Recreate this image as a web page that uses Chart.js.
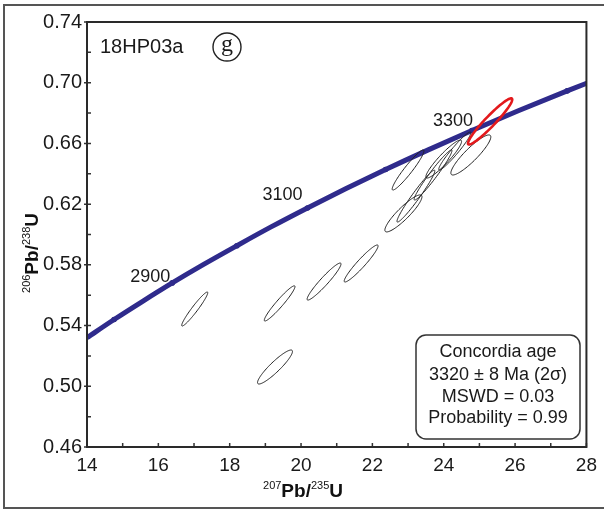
<!DOCTYPE html>
<html>
<head>
<meta charset="utf-8">
<script src="https://cdn.jsdelivr.net/npm/chart.js@4.4.1/dist/chart.umd.min.js"></script>
<style>
  html, body { margin: 0; padding: 0; background: #fff; }
  #wrap { position: relative; width: 604px; height: 511px; }
</style>
</head>
<body>
<div id="wrap"><canvas id="concordia"></canvas></div>
<script>
// concordia curve (age in Ma -> 207Pb/235U, 206Pb/238U)
const concAges = [2750, 2800, 2850, 2900, 2950, 3000, 3050, 3100, 3150, 3200, 3250, 3300, 3350, 3400, 3450];
const concX = [14.00, 14.76, 15.56, 16.39, 17.27, 18.20, 19.16, 20.18, 21.25, 22.37, 23.55, 24.79, 26.09, 27.46, 28.90];
const concY = [0.5320, 0.5440, 0.5560, 0.5681, 0.5803, 0.5926, 0.6050, 0.6175, 0.6301, 0.6428, 0.6556, 0.6685, 0.6815, 0.6946, 0.7078];
const labelledAges = [2900, 3100, 3300];

// zircon analyses: centre, 2-sigma half widths, error correlation
const ellX   = [17.02, 19.40, 19.27, 20.645, 21.685, 23.00, 22.87, 23.22, 23.70, 24.00, 24.31, 24.76];
const ellY   = [0.5509, 0.5546, 0.5127, 0.5690, 0.5809, 0.6425, 0.6139, 0.6253, 0.6392, 0.6497, 0.6550, 0.6524];
const ellSx  = [0.365, 0.43, 0.49, 0.475, 0.475, 0.445, 0.52, 0.53, 0.53, 0.50, 0.45, 0.56];
const ellSy  = [0.0112, 0.0116, 0.0112, 0.0122, 0.0122, 0.0132, 0.0122, 0.0171, 0.0165, 0.0125, 0.0125, 0.0132];
const ellRho = [0.96, 0.955, 0.915, 0.95, 0.95, 0.95, 0.90, 0.97, 0.97, 0.93, 0.96, 0.90];

// concordia age ellipse
const ageX = 25.30, ageY = 0.6745, ageSx = 0.62, ageSy = 0.0152, ageRho = 0.95;

const legendLines = ['Concordia age', '3320 \u00b1 8 Ma (2\u03c3)', 'MSWD = 0.03', 'Probability = 0.99'];

const FONT = "'Liberation Sans', Arial, Helvetica, sans-serif";
const NAVY = '#2f2b8c';

const concPts = concX.map((x, i) => ({ x: x, y: concY[i] }));
const markerPts = concPts.filter((p, i) => concAges[i] % 100 === 0);

function ellipsePath(ctx, xs, ys, cx, cy, sx, sy, rho) {
  const n = 90, s = Math.sqrt(1 - rho * rho);
  ctx.beginPath();
  for (let k = 0; k <= n; k++) {
    const t = k / n * Math.PI * 2;
    const px = xs.getPixelForValue(cx + sx * Math.cos(t));
    const py = ys.getPixelForValue(cy + sy * (rho * Math.cos(t) + s * Math.sin(t)));
    if (k === 0) ctx.moveTo(px, py); else ctx.lineTo(px, py);
  }
  ctx.closePath();
}

const decorPlugin = {
  id: 'decor',
  beforeDraw(chart) {
    const ctx = chart.ctx;
    ctx.save();
    ctx.fillStyle = '#fff';
    ctx.fillRect(0, 0, chart.width, chart.height);
    ctx.strokeStyle = '#555';
    ctx.lineWidth = 2;
    ctx.beginPath();
    ctx.moveTo(chart.width, 5); ctx.lineTo(4, 5); ctx.lineTo(4, 508); ctx.lineTo(chart.width, 508);
    ctx.stroke();
    ctx.restore();
  },
  afterDatasetsDraw(chart) {
    const { ctx, chartArea: a, scales: { x, y } } = chart;
    ctx.save();
    ctx.beginPath();
    ctx.rect(a.left, a.top, a.right - a.left, a.bottom - a.top);
    ctx.clip();
    ctx.strokeStyle = '#222';
    ctx.lineWidth = 1;
    for (let i = 0; i < ellX.length; i++) {
      ellipsePath(ctx, x, y, ellX[i], ellY[i], ellSx[i], ellSy[i], ellRho[i]);
      ctx.stroke();
    }
    ctx.strokeStyle = '#e3191c';
    ctx.lineWidth = 2.6;
    ellipsePath(ctx, x, y, ageX, ageY, ageSx, ageSy, ageRho);
    ctx.stroke();
    ctx.restore();
  },
  afterDraw(chart) {
    const { ctx, chartArea: a, scales: { x, y } } = chart;
    ctx.save();
    // frame and inner ticks
    ctx.strokeStyle = '#333';
    ctx.lineWidth = 1.5;
    ctx.beginPath();
    x.ticks.forEach(t => {
      const px = x.getPixelForValue(t.value);
      ctx.moveTo(px, a.bottom); ctx.lineTo(px, a.bottom - 4);
    });
    y.ticks.forEach((t, i) => {
      const py = y.getPixelForValue(t.value);
      ctx.moveTo(a.left, py); ctx.lineTo(a.left + 4, py);
      if (i % 2 === 0) { ctx.moveTo(a.left, py); ctx.lineTo(a.left - 3, py); }
    });
    ctx.stroke();
    ctx.lineWidth = 2;
    ctx.strokeStyle = '#2a2a2a';
    ctx.strokeRect(a.left, a.top, a.right - a.left, a.bottom - a.top);

    // age labels on the concordia
    ctx.fillStyle = '#1a1a1a';
    ctx.font = '18px ' + FONT;
    ctx.textAlign = 'right';
    ctx.textBaseline = 'alphabetic';
    const offs = { 2900: [-2, -1], 3100: [-5, -8], 3300: [1, -5] };
    labelledAges.forEach(age => {
      const i = concAges.indexOf(age);
      const px = x.getPixelForValue(concX[i]), py = y.getPixelForValue(concY[i]);
      ctx.fillText(String(age), px + offs[age][0], py + offs[age][1]);
    });

    // sample name and panel letter
    ctx.textAlign = 'left';
    ctx.font = '20px ' + FONT;
    ctx.fillText('18HP03a', a.left + 13, 53);
    ctx.lineWidth = 1.4;
    ctx.strokeStyle = '#222';
    ctx.beginPath();
    ctx.arc(227, 47, 14, 0, Math.PI * 2);
    ctx.stroke();
    ctx.textAlign = 'center';
    ctx.textBaseline = 'middle';
    ctx.font = "24px 'Liberation Serif', 'Times New Roman', serif";
    ctx.fillText('g', 227, 45);

    // result box
    ctx.lineWidth = 1.5;
    ctx.strokeStyle = '#333';
    ctx.beginPath();
    ctx.roundRect(416, 335, 164, 104, 10);
    ctx.stroke();
    ctx.font = '18px ' + FONT;
    const ly = [352, 375, 397, 418];
    legendLines.forEach((s, i) => ctx.fillText(s, 498, ly[i]));

    // axis titles with superscripts
    function isotopeTitle(parts, cx, cy) {
      let w = 0;
      parts.forEach(p => { ctx.font = p[1] ? '11px ' + FONT : 'bold 19px ' + FONT; w += ctx.measureText(p[0]).width; });
      let xx = cx - w / 2;
      ctx.textAlign = 'left';
      ctx.textBaseline = 'alphabetic';
      parts.forEach(p => {
        ctx.font = p[1] ? '11px ' + FONT : 'bold 19px ' + FONT;
        ctx.fillText(p[0], xx, cy - (p[1] ? 8 : 0));
        xx += ctx.measureText(p[0]).width;
      });
    }
    ctx.fillStyle = '#111';
    isotopeTitle([['207', 1], ['Pb/', 0], ['235', 1], ['U', 0]], 303, 497);
    ctx.translate(38, 253);
    ctx.rotate(-Math.PI / 2);
    isotopeTitle([['206', 1], ['Pb/', 0], ['238', 1], ['U', 0]], 0, 0);
    ctx.restore();
  }
};

new Chart(document.getElementById('concordia').getContext('2d'), {
  type: 'scatter',
  data: {
    datasets: [
      {
        data: concPts, showLine: true, borderColor: NAVY, borderWidth: 5,
        pointRadius: 0, cubicInterpolationMode: 'monotone'
      },
      {
        data: concPts, showLine: true, borderColor: 'rgba(225,225,250,0.95)', borderWidth: 1.2,
        pointRadius: 0, cubicInterpolationMode: 'monotone'
      },
      {
        data: markerPts, showLine: false, pointRadius: 2.8,
        pointBackgroundColor: '#1c1870', pointBorderWidth: 0
      }
    ]
  },
  options: {
    responsive: true,
    maintainAspectRatio: false,
    animation: false,
    events: [],
    layout: { padding: { left: 0, right: 16, top: 22, bottom: 0 } },
    plugins: { legend: { display: false }, tooltip: { enabled: false } },
    scales: {
      x: {
        type: 'linear', min: 14, max: 28,
        grid: { display: false, drawTicks: false }, border: { display: false },
        ticks: {
          stepSize: 1, autoSkip: false, maxRotation: 0, padding: 7,
          color: '#1a1a1a', font: { family: FONT, size: 19 },
          callback: v => (Math.round(v) % 2 === 0 ? String(Math.round(v)) : '')
        },
        afterFit: s => { s.height = 64; }
      },
      y: {
        type: 'linear', min: 0.46, max: 0.74,
        grid: { display: false, drawTicks: false }, border: { display: false },
        ticks: {
          stepSize: 0.02, autoSkip: false, padding: 5,
          color: '#1a1a1a', font: { family: FONT, size: 20 },
          callback: (v, i) => (i % 2 === 0 ? v.toFixed(2) : '')
        },
        afterFit: s => { s.width = 87; }
      }
    }
  },
  plugins: [decorPlugin]
});
</script>
</body>
</html>
